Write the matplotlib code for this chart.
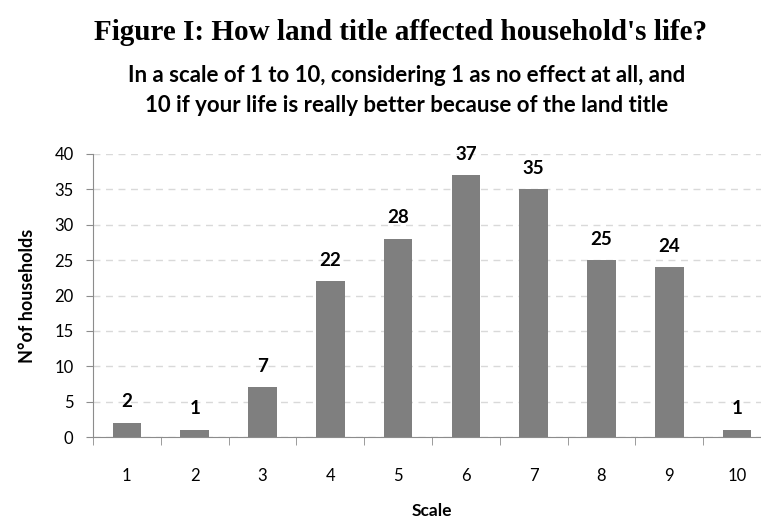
import numpy as np
import matplotlib.pyplot as plt

scale = [1, 2, 3, 4, 5, 6, 7, 8, 9, 10]
households = [2, 1, 7, 22, 28, 37, 35, 25, 24, 1]
y_ticks = [0, 5, 10, 15, 20, 25, 30, 35, 40]

label_font = 'Lato'
bar_color = '#7f7f7f'
axis_color = '#8c8c8c'

fig = plt.figure(figsize=(7.61, 5.18), dpi=100)
ax = fig.add_axes([93 / 761, 81 / 518, 678 / 761, 283 / 518])

x = np.arange(len(scale))
bars = ax.bar(x, households, width=0.42, color=bar_color, zorder=3)

for xi, v in zip(x, households):
    ax.annotate(str(v), (xi, v), xytext=(0, 9), textcoords='offset points',
                ha='center', va='bottom', fontsize=13.5, fontweight='bold',
                family=label_font, color='black')

ax.set_xlim(-0.5, len(scale) - 0.5)
ax.set_ylim(0, 40)
ax.set_yticks(y_ticks)
ax.set_xticks(x)
ax.set_xticklabels([str(s) for s in scale], family=label_font, fontsize=12)
ax.set_xticks(np.arange(-0.5, len(scale), 1), minor=True)
ax.tick_params(axis='x', which='major', length=0, pad=22)
ax.tick_params(axis='x', which='minor', length=6, color=axis_color, direction='out')
ax.tick_params(axis='y', length=5, color=axis_color, labelsize=12, pad=9)
for lbl in ax.get_yticklabels():
    lbl.set_family(label_font)

ax.yaxis.grid(True, linestyle=(0, (5, 4)), color='#d9d9d9', linewidth=1, zorder=0)
for side in ['top', 'right']:
    ax.spines[side].set_visible(False)
for side in ['left', 'bottom']:
    ax.spines[side].set_color(axis_color)

ax.set_xlabel('Scale', family=label_font, fontsize=12.5, fontweight='bold', labelpad=14)
ax.set_ylabel('N°of households', family=label_font, fontsize=13, fontweight='bold', labelpad=13)

fig.text(401 / 761, 1 - 32 / 518, "Figure I: How land title affected household's life?",
         ha='center', va='center', family='Liberation Serif', fontweight='bold', fontsize=21)
fig.text(407 / 761, 1 - 76 / 518, 'In a scale of 1 to 10, considering 1 as no effect at all, and',
         ha='center', va='center', family=label_font, fontweight='bold', fontsize=16)
fig.text(407 / 761, 1 - 105 / 518, '10 if your life is really better because of the land title',
         ha='center', va='center', family=label_font, fontweight='bold', fontsize=16)

fig.savefig('out.png', dpi=100)
